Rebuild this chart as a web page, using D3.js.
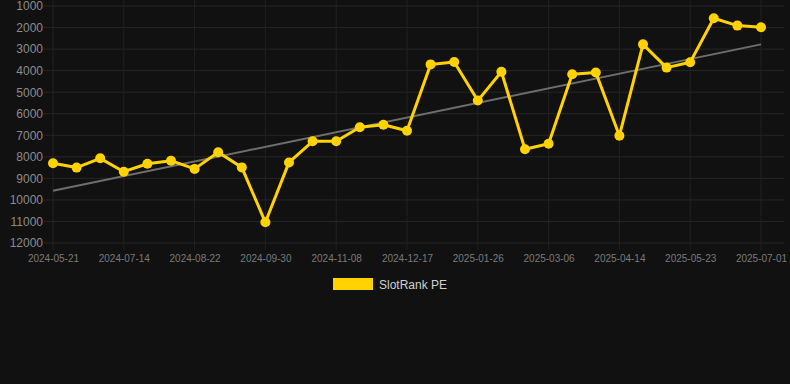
<!DOCTYPE html>
<html>
<head>
<meta charset="utf-8">
<script src="https://cdn.jsdelivr.net/npm/d3@7/dist/d3.min.js"></script>
<style>
  html, body { margin: 0; padding: 0; background: #111111; }
  svg { display: block; }
  text { font-family: "Liberation Sans", Arial, sans-serif; }
</style>
</head>
<body>
<svg id="chart" width="790" height="384"></svg>
<script>
const dates = [
  "2024-05-21","2024-06-14","2024-07-01","2024-07-14","2024-07-27","2024-08-09",
  "2024-08-22","2024-09-04","2024-09-17","2024-09-30","2024-10-13","2024-10-26",
  "2024-11-08","2024-11-21","2024-12-04","2024-12-17","2024-12-30","2025-01-13",
  "2025-01-26","2025-02-08","2025-02-21","2025-03-06","2025-03-19","2025-04-01",
  "2025-04-14","2025-04-27","2025-05-10","2025-05-23","2025-06-05","2025-06-18",
  "2025-07-01"
];
const rankPE = [
  8300, 8500, 8070, 8690, 8320, 8180,
  8560, 7790, 8490, 11040, 8260, 7280,
  7280, 6630, 6510, 6790, 3710, 3600,
  5390, 4050, 7650, 7390, 4170, 4090,
  7020, 2780, 3860, 3610, 1570, 1910,
  1990
];
const yTicks = [1000,2000,3000,4000,5000,6000,7000,8000,9000,10000,11000,12000];
const xTickLabels = ["2024-05-21","2024-07-14","2024-08-22","2024-09-30","2024-11-08",
  "2024-12-17","2025-01-26","2025-03-06","2025-04-14","2025-05-23","2025-07-01"];
const seriesName = "SlotRank PE";

const svg = d3.select("#chart");
const plotLeft = 44, plotRight = 784, plotTop = 6, plotBottom = 243;
const x = d3.scalePoint().domain(dates).range([53, 761]);
const y = d3.scaleLinear().domain([1000, 12000]).range([plotTop, plotBottom]);

// grid
const grid = svg.append("g");
grid.selectAll("line.h").data(yTicks).join("line").attr("class", "h")
  .attr("x1", plotLeft).attr("x2", plotRight)
  .attr("y1", d => y(d)).attr("y2", d => y(d))
  .attr("stroke", "#262626").attr("stroke-width", 1);
grid.selectAll("line.v").data(xTickLabels).join("line").attr("class", "v")
  .attr("x1", d => x(d)).attr("x2", d => x(d))
  .attr("y1", 0).attr("y2", plotBottom + 7)
  .attr("stroke", "#222222").attr("stroke-width", 1);

// y axis
const yAxis = d3.axisLeft(y).tickValues(yTicks).tickSize(0).tickPadding(0)
  .tickFormat(d => String(d));
const gy = svg.append("g").attr("transform", `translate(${plotLeft - 1},0)`).call(yAxis);
gy.select(".domain").remove();
gy.selectAll("text").attr("fill", "#8c8c8c").style("font-size", "12px")
  .style("font-family", "'Liberation Sans', Arial, sans-serif");

// x axis
const xAxis = d3.axisBottom(x).tickValues(xTickLabels).tickSize(0).tickPadding(0);
const gx = svg.append("g").attr("transform", `translate(0,${plotBottom + 12})`).call(xAxis);
gx.select(".domain").remove();
gx.selectAll("text").attr("fill", "#7a7a7a").style("font-size", "10px")
  .style("font-family", "'Liberation Sans', Arial, sans-serif");

// trend (least squares)
const n = rankPE.length;
const idx = d3.range(n);
const mx = d3.mean(idx), my = d3.mean(rankPE);
const slope = d3.sum(idx, i => (i - mx) * (rankPE[i] - my)) / d3.sum(idx, i => (i - mx) ** 2);
const icpt = my - slope * mx;
const trend = [0, n - 1].map(i => ({ d: dates[i], v: icpt + slope * i }));
svg.append("path").datum(trend)
  .attr("d", d3.line().x(p => x(p.d)).y(p => y(p.v)))
  .attr("fill", "none").attr("stroke", "#6e6e6e").attr("stroke-width", 2);

// series
const pts = dates.map((d, i) => ({ d, v: rankPE[i] }));
svg.append("path").datum(pts)
  .attr("d", d3.line().x(p => x(p.d)).y(p => y(p.v)))
  .attr("fill", "none").attr("stroke", "#ffd200").attr("stroke-width", 3)
  .attr("stroke-linejoin", "round");
svg.append("g").selectAll("circle").data(pts).join("circle")
  .attr("cx", p => x(p.d)).attr("cy", p => y(p.v)).attr("r", 5)
  .attr("fill", "#ffd200");

// legend
const lg = svg.append("g");
lg.append("rect").attr("x", 333).attr("y", 278).attr("width", 40).attr("height", 12)
  .attr("fill", "#ffd200");
lg.append("text").attr("x", 379).attr("y", 288.5).text(seriesName)
  .attr("fill", "#d0d0d0").style("font-size", "12px");
</script>
</body>
</html>
